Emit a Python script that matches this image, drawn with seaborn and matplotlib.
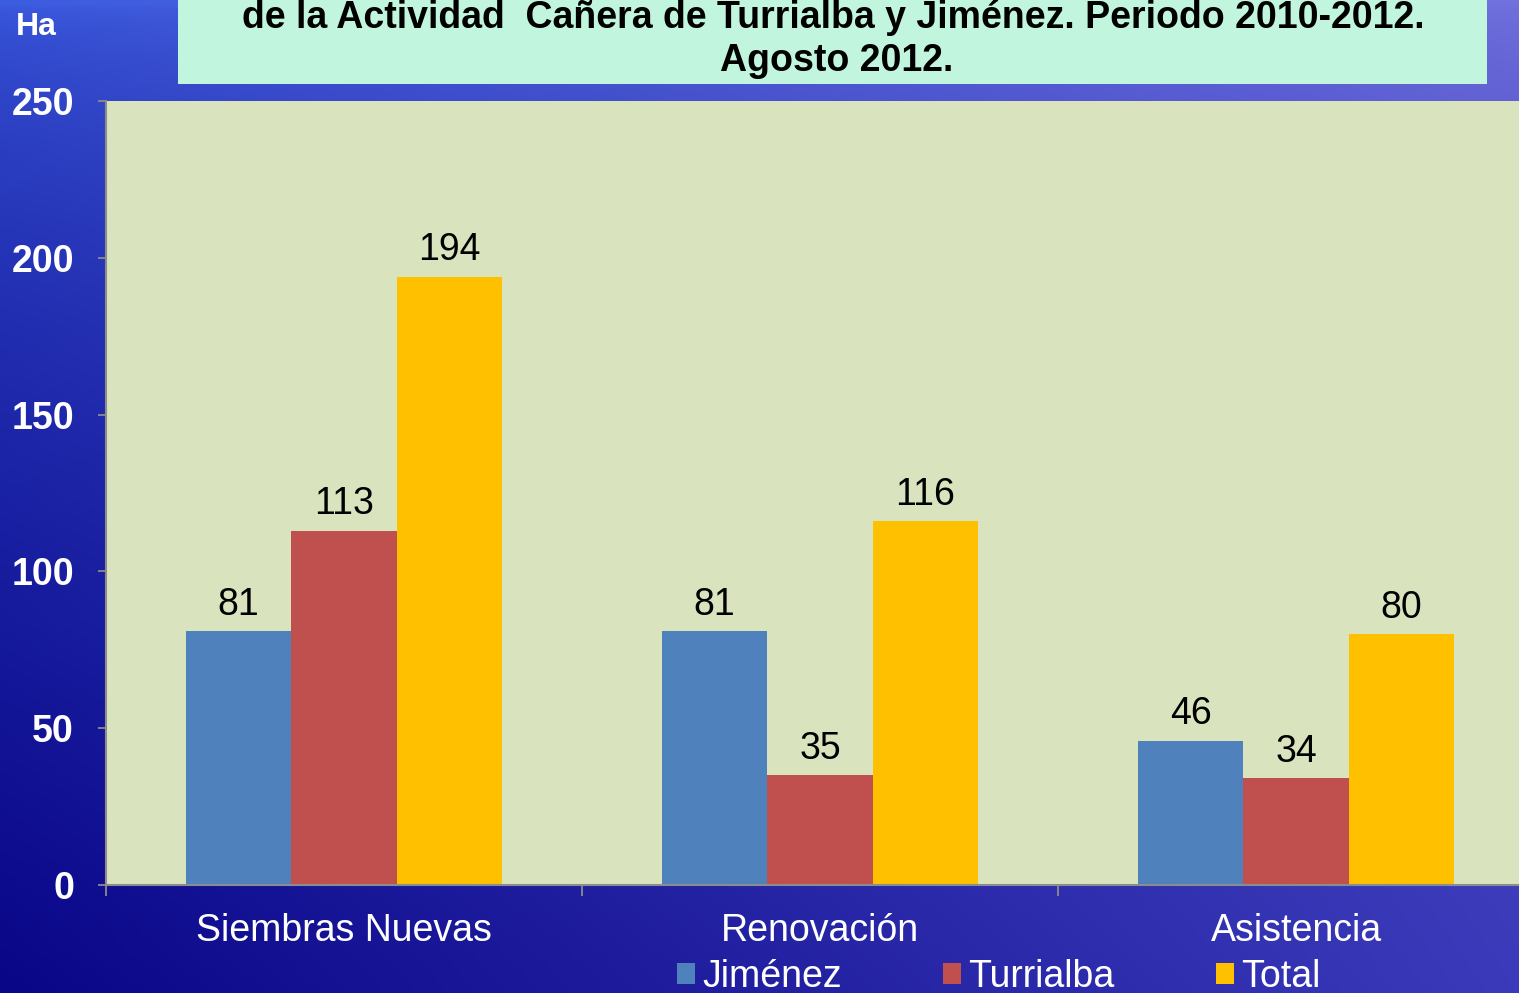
import matplotlib
matplotlib.use('Agg')
import matplotlib.pyplot as plt
from matplotlib import font_manager
from matplotlib.patches import Rectangle, Patch
import numpy as np
import pandas as pd
import seaborn as sns

categories = ['Siembras Nuevas', 'Renovación', 'Asistencia']
series = ['Jiménez', 'Turrialba', 'Total']
jimenez = [81, 81, 46]
turrialba = [113, 35, 34]
total = [194, 116, 80]
colors = ['#4F81BD', '#C0504D', '#FFC000']
y_ticks = [0, 50, 100, 150, 200, 250]
title_1 = 'de la Actividad  Cañera de Turrialba y Jiménez. Periodo 2010-2012.'
title_2 = 'Agosto 2012.'

df = pd.DataFrame({
    'cat': categories * 3,
    'serie': [s for s in series for _ in categories],
    'ha': jimenez + turrialba + total,
})

sns.set_theme(style='white')
plt.rcParams['font.family'] = ['Liberation Sans', 'DejaVu Sans']

names = {f.name for f in font_manager.fontManager.ttflist}
narrow = 'Liberation Sans Narrow' if 'Liberation Sans Narrow' in names else 'Liberation Sans'

W, H = 1519, 993
fig = plt.figure(figsize=(W / 100, H / 100), dpi=100)

# blue gradient background
bg = fig.add_axes([0, 0, 1, 1], zorder=-10)
tl = np.array([0x3c, 0x5c, 0xe0]) / 255
tr = np.array([0x72, 0x72, 0xde]) / 255
bl = np.array([0x0a, 0x06, 0x88]) / 255
br = np.array([0x3a, 0x3a, 0xba]) / 255
u = np.linspace(0, 1, 200)[None, :, None]
v = np.linspace(0, 1, 140)[:, None, None]
v = v ** 0.55
grad = (1 - v) * ((1 - u) * tl + u * tr) + v * ((1 - u) * bl + u * br)
bg.imshow(grad, aspect='auto', extent=[0, 1, 0, 1], interpolation='bilinear')
bg.set_axis_off()

# title box
fig.patches.append(Rectangle((178 / W, 1 - 84 / H), (1487 - 178) / W, 84 / H,
                             transform=fig.transFigure, facecolor='#C2F5DE',
                             edgecolor='none', zorder=1))
fig.text(833 / W, 1 - 18 / H, title_1, ha='center', va='center',
         fontsize=27, fontweight='bold', color='black', zorder=2)
fig.text(837 / W, 1 - 61 / H, title_2, ha='center', va='center',
         fontsize=27, fontweight='bold', color='black', zorder=2)
fig.text(36 / W, 1 - 27 / H, 'Ha', ha='center', va='center',
         fontsize=23, fontweight='bold', color='white')

ax = fig.add_axes([106 / W, 1 - 885 / H, 1428 / W, 784 / H])
ax.set_facecolor('#D9E4BF')
sns.barplot(data=df, x='cat', y='ha', hue='serie', palette=colors,
            width=0.664, saturation=1, legend=False, ax=ax, zorder=2,
            linewidth=0)
for c in ax.containers:
    ax.bar_label(c, fontsize=27, padding=6, color='black')

ax.set_xlim(-0.5, 2.5)
ax.set_ylim(0, 250)
ax.set_yticks(y_ticks)
ax.set_yticklabels([str(t) for t in y_ticks], fontsize=27, fontweight='bold',
                   color='white')
ax.set_xticks([-0.5, 0.5, 1.5])
ax.set_xticklabels([])
ax.set_xticks([0, 1, 2], minor=True)
ax.set_xticklabels(categories, minor=True, fontsize=27, color='white')
ax.tick_params(axis='x', which='major', length=8, width=1.3, color='#8c8c8c',
               direction='out', bottom=True)
ax.tick_params(axis='x', which='minor', length=0, pad=20)
ax.tick_params(axis='y', length=6, width=1.3, color='#8c8c8c', direction='out',
               left=True, pad=17)
ax.set_xlabel('')
ax.set_ylabel('')
for s in ['top', 'right']:
    ax.spines[s].set_visible(False)
for s in ['left', 'bottom']:
    ax.spines[s].set_color('#8c8c8c')
    ax.spines[s].set_linewidth(1.5)

handles = [Patch(facecolor=c, edgecolor='none') for c in colors]
fig.legend(handles, series, loc='center', bbox_to_anchor=(999 / W, 1 - 977 / H),
           ncol=3, frameon=False, prop={'family': narrow, 'size': 27},
           labelcolor='white', handlelength=0.47, handleheight=0.5,
           handletextpad=0.2, columnspacing=2.7, borderpad=0)

fig.savefig('out.png', dpi=100)
